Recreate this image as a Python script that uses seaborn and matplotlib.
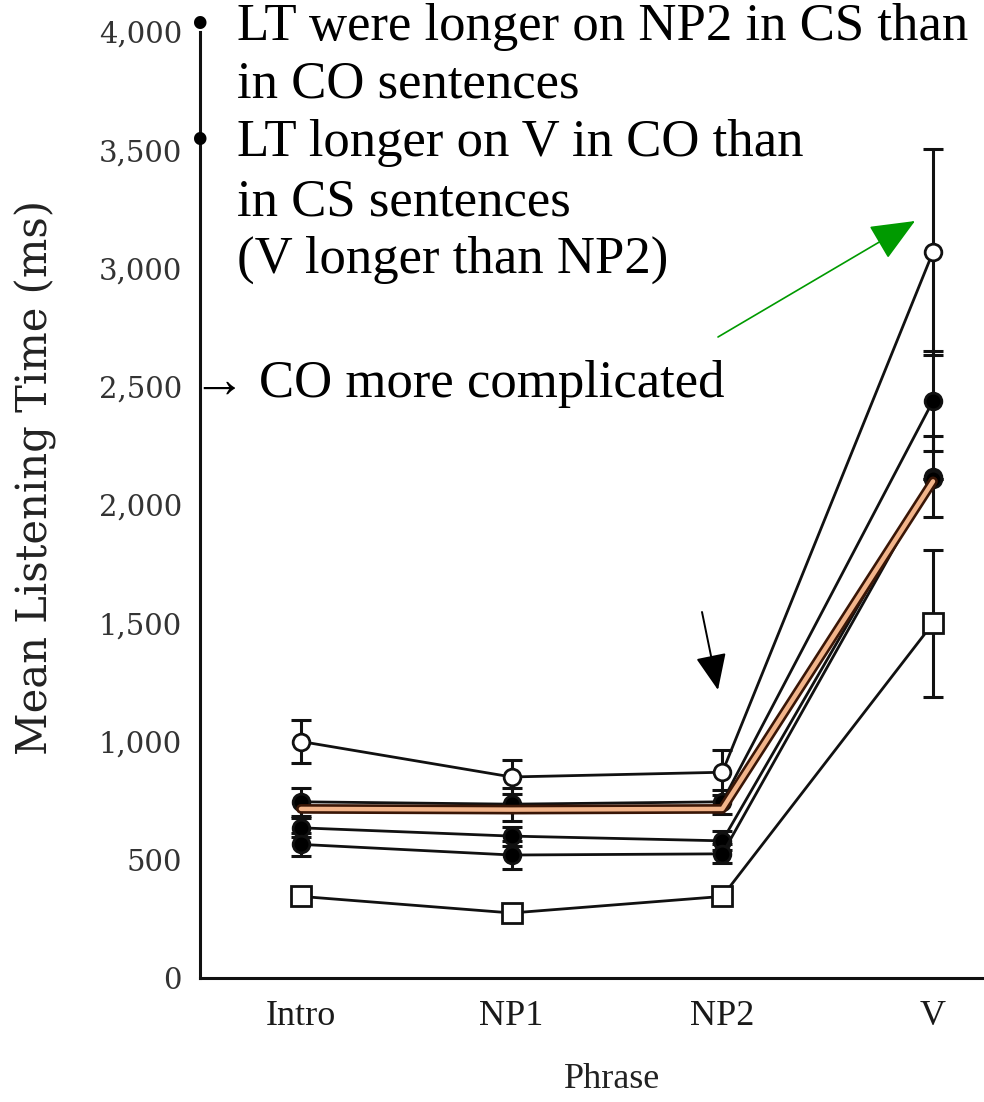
import numpy as np
import pandas as pd
import seaborn as sns
import matplotlib
matplotlib.use("Agg")
import matplotlib.pyplot as plt

# ---------------- data ----------------
phrases = ["Intro", "NP1", "NP2", "V"]
open_circle = [1000, 850, 870, 3070]
open_circle_err = [90, 70, 95, 435]
filled_a = [745, 735, 745, 2440]
filled_a_err = [60, 70, 50, 210]
filled_b = [635, 600, 580, 2120]
filled_b_err = [40, 40, 40, 170]
filled_c = [565, 520, 525, 2110]
filled_c_err = [50, 60, 40, 0]
open_square = [345, 275, 345, 1500]
open_square_err = [25, 20, 20, 310]
highlight = [715, 712, 715, 2100]

y_ticks = [0, 500, 1000, 1500, 2000, 2500, 3000, 3500, 4000]
y_tick_labels = ["0", "500", "1,000", "1,500", "2,000", "2,500", "3,000", "3,500", "4,000"]

bullet_lines = [
    ("\u2022", "LT were longer on NP2 in CS than"),
    ("", "in CO sentences"),
    ("\u2022", "LT longer on V in CO than"),
    ("", "in CS sentences"),
    ("", "(V longer than NP2)"),
]
note_text = "\u2192 CO more complicated"

# ---------------- figure ----------------
sns.set_theme(style="white")
plt.rcParams["font.family"] = ["Liberation Serif", "DejaVu Serif"]

W, H = 984, 1102
fig = plt.figure(figsize=(W / 100, H / 100), dpi=100)
fig.patch.set_facecolor("white")

def fx(px):
    return px / W

def fy(py):
    return 1 - py / H

ax = fig.add_axes([fx(200), fy(978), fx(984) - fx(200), fy(32) - fy(978)])
ax.set_facecolor("white")
x = np.arange(len(phrases))

series = [
    (open_circle, open_circle_err, "o", "white", 12),
    (filled_a, filled_a_err, "o", "black", 12),
    (filled_b, filled_b_err, "o", "black", 12),
    (filled_c, filled_c_err, "o", "black", 12),
    (open_square, open_square_err, "s", "white", 14),
]

for vals, errs, mk, fc, ms in series:
    ax.errorbar(x, vals, yerr=errs, fmt="none", ecolor="#111111", elinewidth=2.2,
                capsize=7, capthick=2.2, zorder=3)
    sns.lineplot(x=x, y=vals, ax=ax, color="#111111", lw=2.0, marker=mk,
                 markersize=ms, markerfacecolor=fc, markeredgecolor="#111111",
                 markeredgewidth=2.0, zorder=4, legend=False)

# highlighted mean line (orange band)
sns.lineplot(x=x, y=highlight, ax=ax, color="#3a1606", lw=7, zorder=5, legend=False)
sns.lineplot(x=x, y=highlight, ax=ax, color="#f2b48a", lw=3.2, zorder=6, legend=False)

ax.set_xlim(-0.479, 3.242)
ax.set_ylim(0, 4000)
ax.set_xticks(x)
ax.set_xticklabels(phrases, fontsize=26, family=["Liberation Serif"], color="#1a1a1a")
ax.set_yticks(y_ticks)
ax.set_yticklabels(y_tick_labels, fontsize=21, family=["DejaVu Serif"], color="#333333")
ax.set_xlabel("")
ax.set_ylabel("")
for s in ["top", "right"]:
    ax.spines[s].set_visible(False)
for s in ["left", "bottom"]:
    ax.spines[s].set_color("#111111")
    ax.spines[s].set_linewidth(2.2)
ax.tick_params(axis="both", direction="out", length=10, width=2, color="#111111")
ax.tick_params(axis="y", pad=3)
ax.tick_params(axis="x", pad=6)

# axis titles
fig.text(fx(36), fy(478), "Mean Listening Time (ms)", rotation=90, ha="center",
         va="center", fontsize=30, family=["DejaVu Serif"], color="#222222")
fig.text(fx(612), fy(1080), "Phrase", ha="center", va="center", fontsize=26,
         family=["Liberation Serif"], color="#222222")

# annotation text
baselines = [40, 98, 156, 215, 273]
for (b, t), yb in zip(bullet_lines, baselines):
    if b:
        fig.text(fx(191), fy(yb), b, ha="left", va="baseline", fontsize=38, color="black")
    fig.text(fx(237), fy(yb), t, ha="left", va="baseline", fontsize=38, color="black")
fig.text(fx(193), fy(397), note_text, ha="left", va="baseline", fontsize=38,
         color="black", family=["Liberation Serif", "DejaVu Serif"])

# arrows
fig.add_artist(matplotlib.patches.FancyArrowPatch(
    (fx(718), fy(337)), (fx(915), fy(221)), transform=fig.transFigure,
    arrowstyle="-|>,head_length=0.7,head_width=0.3", mutation_scale=40,
    color="#009a00", lw=1.2, shrinkA=0, shrinkB=0))
fig.add_artist(matplotlib.patches.FancyArrowPatch(
    (fx(702), fy(612)), (fx(718), fy(690)), transform=fig.transFigure,
    arrowstyle="-|>,head_length=0.7,head_width=0.3", mutation_scale=32,
    color="black", lw=1.4, shrinkA=0, shrinkB=0))

fig.savefig("out.png", dpi=100, facecolor="white")
